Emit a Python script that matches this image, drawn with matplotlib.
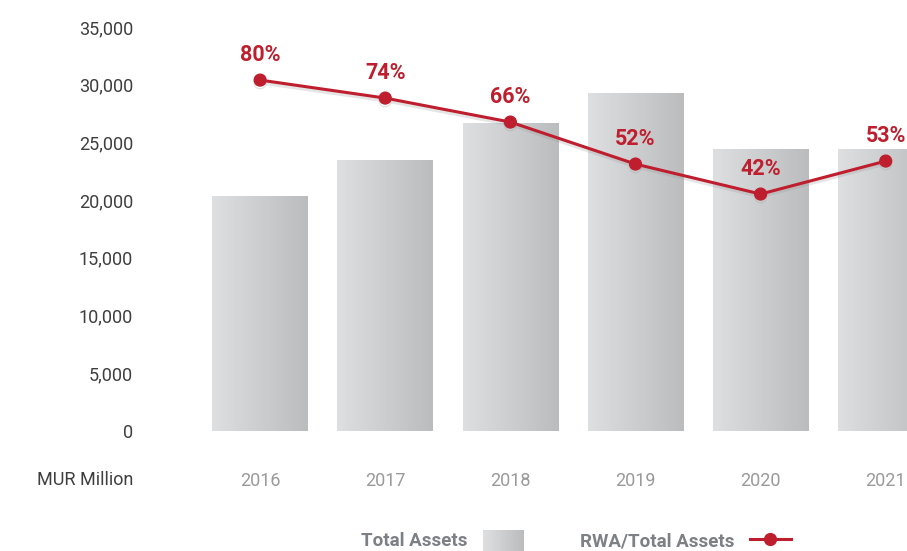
import matplotlib
matplotlib.use("Agg")
import matplotlib.pyplot as plt
import numpy as np
from matplotlib.colors import LinearSegmentedColormap
from matplotlib.patches import Rectangle
from matplotlib.lines import Line2D
from matplotlib.legend_handler import HandlerBase
import matplotlib.patheffects as pe

# ---- data ----
years = ["2016", "2017", "2018", "2019", "2020", "2021"]
total_assets = [20400, 23500, 26700, 29300, 24400, 24400]
rwa_ratio = [80, 74, 66, 52, 42, 53]
y_ticks = [0, 5000, 10000, 15000, 20000, 25000, 30000, 35000]
y_unit_label = "MUR Million"
legend_labels = ["Total Assets", "RWA/Total Assets"]

RED = "#BE1E2D"
DARK = "#3f3f3f"
LIGHT = "#9a9a9a"
LEG = "#7d8085"
G_LEFT = "#dedfe1"
G_RIGHT = "#bbbcbe"
cmap = LinearSegmentedColormap.from_list("g", [G_LEFT, G_RIGHT])

plt.rcParams["font.family"] = ["Roboto", "DejaVu Sans"]

fig = plt.figure(figsize=(9.07, 5.51), dpi=100)
ax = fig.add_axes([140 / 907, 1 - 431 / 551, 1 - 140 / 907, (431 - 27) / 551])

x = np.arange(len(years))
bars = ax.bar(x, total_assets, width=0.765, color="none", edgecolor="none")
grad = np.linspace(0, 1, 256).reshape(1, -1)
for b in bars:
    x0, w, h = b.get_x(), b.get_width(), b.get_height()
    im = ax.imshow(grad, extent=[x0, x0 + w, 0, h], aspect="auto", cmap=cmap,
                   interpolation="bilinear", zorder=1)
    im.set_clip_path(b)

ax.set_xlim(-0.96, 5.17)
ax.set_ylim(0, 35000)
ax.set_yticks(y_ticks)
ax.set_yticklabels([f"{v:,}" for v in y_ticks])
ax.set_xticks(x)
ax.set_xticklabels(years)
for s in ax.spines.values():
    s.set_visible(False)
ax.tick_params(axis="y", length=0, pad=5, labelsize=13, labelcolor=DARK)
ax.tick_params(axis="x", length=0, pad=29.5, labelsize=13, labelcolor=LIGHT)

fig.text(133 / 907, 1 - 480 / 551, y_unit_label, ha="right", va="center",
         fontsize=13, color=DARK)

ax2 = ax.twinx()
ax2.set_ylim(-37, 97.7)
ax2.axis("off")
ax2.plot(x, rwa_ratio, color=RED, lw=2.2, marker="o", ms=8.5, zorder=3,
         path_effects=[pe.SimpleLineShadow(offset=(0, -2), shadow_color="#999999", alpha=0.25),
                       pe.Normal()])
for xi, v in zip(x, rwa_ratio):
    ax2.annotate(f"{v}%", (xi, v), xytext=(0, 18), textcoords="offset points",
                 ha="center", va="center", fontsize=15.5, fontweight="bold", color=RED,
                 zorder=4)


class GradientHandler(HandlerBase):
    def create_artists(self, legend, orig_handle, xdescent, ydescent, width, height,
                       fontsize, trans):
        n = 30
        arts = []
        for i in range(n):
            r = Rectangle((-xdescent + width * i / n, -ydescent - height * 0.4),
                          width / n + 0.3, height * 1.6,
                          facecolor=cmap(i / (n - 1)), edgecolor="none", transform=trans)
            arts.append(r)
        return arts


bar_handle = Rectangle((0, 0), 1, 1)
line_handle = Line2D([], [], color=RED, lw=2.2, marker="o", ms=8.5)
leg = fig.legend([bar_handle, line_handle], legend_labels, loc="center",
                 bbox_to_anchor=(576 / 907, 1 - 541 / 551), ncol=2, frameon=False,
                 markerfirst=False, handlelength=2.2, handletextpad=0.8,
                 columnspacing=3.0, handler_map={Rectangle: GradientHandler()},
                 prop={"size": 13.5, "weight": "bold"})
for t in leg.get_texts():
    t.set_color(LEG)

fig.savefig("out.png", dpi=100)
